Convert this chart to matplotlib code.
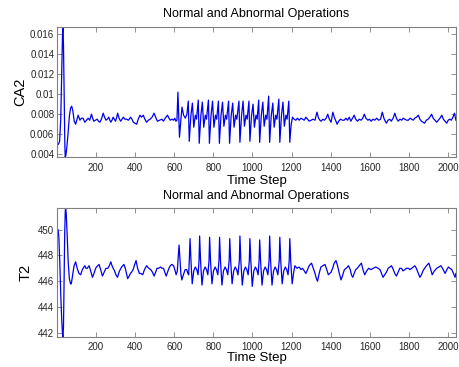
import matplotlib
matplotlib.use('Agg')
import matplotlib.pyplot as plt

plt.rcParams['font.family'] = ['Liberation Sans', 'DejaVu Sans']

# CA2 readings (time step, value)
ca2_steps = [
    1, 8, 14, 20, 25, 29, 31, 34, 38, 41, 43, 46, 51, 57, 64, 70, 76, 82, 89, 96,
    102, 109, 118, 126, 134, 143, 152, 160, 168, 177, 183, 189, 197, 206, 213, 220,
    228, 237, 244, 251, 258, 266, 271, 276, 282, 288, 294, 300, 305, 311, 318, 326,
    333, 340, 348, 357, 366, 377, 384, 391, 400, 408, 416, 425, 433, 442, 450, 459,
    468, 477, 487, 497, 505, 514, 525, 537, 545, 554, 566, 573, 580, 589, 597, 603,
    609, 614, 619, 623, 627, 633, 640, 648, 657, 665, 672, 677,
    685, 693, 700, 708, 714, 723, 728,
    736, 744, 751, 759, 765, 775, 780,
    788, 796, 803, 811, 817, 826, 831,
    839, 847, 854, 862, 868, 878, 883,
    891, 899, 906, 914, 920, 931, 936,
    944, 952, 959, 967, 973, 982, 987,
    995, 1003, 1010, 1018, 1024, 1032, 1037,
    1045, 1053, 1060, 1068, 1074, 1083, 1088,
    1096, 1104, 1111, 1119, 1125, 1135, 1140,
    1148, 1156, 1163, 1171, 1177, 1186, 1191,
    1198, 1205, 1213, 1222, 1230, 1239, 1248, 1256, 1265, 1273, 1282, 1290, 1300,
    1310, 1320, 1330, 1338, 1345, 1351, 1360, 1368, 1377, 1385, 1393, 1402, 1411,
    1420, 1427, 1433, 1441, 1450, 1460, 1469, 1478, 1486, 1495, 1503, 1512, 1520,
    1528, 1537, 1546, 1555, 1564, 1572, 1580, 1590, 1598, 1607, 1616, 1625, 1635,
    1645, 1655, 1664, 1672, 1679, 1685, 1693, 1702, 1710, 1719, 1728, 1736, 1745,
    1754, 1763, 1771, 1780, 1788, 1797, 1806, 1814, 1822, 1830, 1839, 1848, 1856,
    1864, 1872, 1880, 1889, 1898, 1907, 1916, 1924, 1933, 1942, 1950, 1959, 1968,
    1976, 1985, 1993, 2001, 2009, 2017, 2025, 2033, 2040,
]
ca2_values = [
    0.0050, 0.0050, 0.0053, 0.0075, 0.0120, 0.0160, 0.01666, 0.0148, 0.0090, 0.0048,
    0.00373, 0.0039, 0.0047, 0.0060, 0.0078, 0.0086, 0.0088, 0.0083, 0.0073, 0.0070,
    0.0074, 0.0079, 0.0074, 0.0076, 0.0076, 0.0072, 0.0074, 0.0076, 0.0074, 0.0080,
    0.0076, 0.0073, 0.0074, 0.0075, 0.0073, 0.0072, 0.0075, 0.0081, 0.0077, 0.0074,
    0.0075, 0.0077, 0.0074, 0.0072, 0.0074, 0.0077, 0.0075, 0.0073, 0.0076, 0.0081,
    0.0076, 0.0073, 0.0075, 0.0077, 0.0075, 0.0075, 0.0074, 0.0077, 0.0075, 0.0072,
    0.0071, 0.0070, 0.0075, 0.0079, 0.0077, 0.0079, 0.0075, 0.0072, 0.0074, 0.0075,
    0.0077, 0.0081, 0.0077, 0.0073, 0.0074, 0.0075, 0.0073, 0.0076, 0.0079, 0.0076,
    0.0074, 0.0075, 0.0074, 0.0076, 0.0073, 0.0074, 0.0102, 0.0078, 0.0057, 0.0072,
    0.0087, 0.0079, 0.0076, 0.0080, 0.0093, 0.0053,
    0.0078, 0.0091, 0.0067, 0.0079, 0.0075, 0.0094, 0.0051,
    0.0078, 0.0092, 0.0067, 0.0079, 0.0075, 0.0094, 0.0051,
    0.0078, 0.0093, 0.0067, 0.0079, 0.0075, 0.0093, 0.0051,
    0.0078, 0.0092, 0.0068, 0.0079, 0.0075, 0.0093, 0.0051,
    0.0078, 0.0091, 0.0067, 0.0079, 0.0075, 0.0093, 0.0052,
    0.0078, 0.0093, 0.0068, 0.0079, 0.0075, 0.0093, 0.0053,
    0.0078, 0.0090, 0.0067, 0.0079, 0.0075, 0.0094, 0.0052,
    0.0078, 0.0092, 0.0068, 0.0079, 0.0075, 0.0098, 0.0052,
    0.0078, 0.0091, 0.0067, 0.0079, 0.0075, 0.0095, 0.0052,
    0.0078, 0.0092, 0.0068, 0.0079, 0.0075, 0.0093, 0.0052,
    0.0070, 0.0077, 0.0075, 0.0074, 0.0076, 0.0074, 0.0076, 0.0075, 0.0074, 0.0077,
    0.0075, 0.0073, 0.0074, 0.0075, 0.0074, 0.0082, 0.0076, 0.0074, 0.0073, 0.0075,
    0.0074, 0.0076, 0.0080, 0.0075, 0.0072, 0.0082, 0.0076, 0.0073, 0.0070, 0.0073,
    0.0075, 0.0074, 0.0074, 0.0076, 0.0074, 0.0077, 0.0073, 0.0076, 0.0079, 0.0075,
    0.0073, 0.0075, 0.0074, 0.0076, 0.0080, 0.0076, 0.0074, 0.0075, 0.0073, 0.0075,
    0.0074, 0.0076, 0.0074, 0.0075, 0.0082, 0.0076, 0.0073, 0.0071, 0.0074, 0.0075,
    0.0073, 0.0076, 0.0081, 0.0076, 0.0073, 0.0075, 0.0074, 0.0076, 0.0075, 0.0074,
    0.0074, 0.0076, 0.0075, 0.0074, 0.0076, 0.0077, 0.0079, 0.0075, 0.0073, 0.0072,
    0.0071, 0.0074, 0.0075, 0.0077, 0.0080, 0.0076, 0.0074, 0.0072, 0.0074, 0.0076,
    0.0079, 0.0075, 0.0073, 0.0071, 0.0074, 0.0075, 0.0074, 0.0077, 0.0081, 0.0074,
]

# T2 readings (time step, value)
t2_steps = [
    1, 6, 10, 15, 20, 25, 29, 31, 34, 37, 40, 43, 45, 48, 53, 58, 64, 70, 74, 80,
    88, 96, 104, 113, 122, 128, 134, 143, 149, 155, 160, 165, 173, 182, 190, 196,
    202, 209, 216, 224, 233, 242, 251, 261, 268, 276, 282, 288, 295, 302, 310, 318,
    324, 331, 337, 343, 350, 356, 362, 370, 376, 382, 390, 398, 405, 413, 422, 430,
    439, 448, 459, 470, 480, 489, 497, 505, 512, 520, 530, 538, 545, 552, 559, 566,
    573, 580, 588, 597, 603, 610, 616, 621, 625, 629, 634, 639, 647, 656, 664, 670,
    674, 677, 681,
    686, 692, 700, 708, 715, 722, 727, 730,
    735, 742, 750, 758, 765, 772, 778, 781,
    786, 793, 801, 809, 816, 823, 829, 832,
    837, 844, 852, 860, 867, 874, 881, 884,
    889, 896, 904, 912, 919, 926, 933, 936,
    941, 948, 956, 964, 971, 978, 984, 987,
    992, 999, 1007, 1015, 1022, 1029, 1034, 1037,
    1042, 1049, 1057, 1065, 1072, 1079, 1085, 1088,
    1093, 1100, 1108, 1116, 1123, 1130, 1137, 1140,
    1145, 1152, 1160, 1168, 1175, 1182, 1188, 1191,
    1196, 1203, 1210, 1217, 1228, 1239, 1248, 1256, 1265, 1273, 1282, 1290, 1302,
    1311, 1320, 1327, 1333, 1341, 1350, 1360, 1371, 1380, 1388, 1395, 1402, 1410,
    1418, 1427, 1435, 1444, 1453, 1462, 1470, 1479, 1491, 1500, 1506, 1513, 1520,
    1528, 1536, 1546, 1557, 1565, 1574, 1584, 1594, 1605, 1617, 1630, 1643, 1652,
    1660, 1668, 1676, 1685, 1694, 1703, 1711, 1720, 1728, 1736, 1745, 1753, 1762,
    1770, 1779, 1788, 1797, 1805, 1814, 1822, 1830, 1838, 1848, 1856, 1864, 1872,
    1880, 1890, 1902, 1910, 1919, 1930, 1942, 1953, 1964, 1975, 1985, 1994, 2002,
    2010, 2019, 2028, 2036, 2040,
]
t2_values = [
    450.0, 450.0, 449.5, 447.5, 445.0, 443.0, 441.9, 441.69, 442.5, 446.0, 449.5,
    451.4, 451.69, 451.2, 449.5, 447.5, 446.2, 445.8, 445.8, 446.4, 447.2, 447.5,
    447.0, 446.6, 446.5, 446.8, 447.0, 447.2, 447.0, 447.0, 447.1, 447.2, 446.8,
    446.3, 446.6, 446.9, 447.1, 447.2, 447.3, 446.9, 446.4, 446.7, 447.0, 447.0,
    447.2, 447.5, 447.2, 447.0, 446.8, 446.5, 446.3, 446.7, 446.9, 447.1, 447.2,
    447.3, 447.0, 446.6, 446.2, 446.4, 446.6, 446.7, 446.9, 447.3, 447.6, 447.0,
    446.6, 446.6, 446.5, 446.9, 447.2, 447.0, 446.9, 446.7, 446.4, 446.7, 447.0,
    447.0, 447.1, 447.0, 447.0, 446.7, 446.4, 446.7, 447.0, 447.2, 447.3, 447.2,
    446.9, 446.5, 446.8, 448.0, 448.8, 447.8, 446.6, 446.1, 446.5, 446.9, 446.9,
    446.6, 446.5, 447.6, 449.3,
    447.5, 445.8, 446.8, 447.1, 446.9, 446.5, 447.6, 449.5,
    447.5, 445.7, 446.8, 447.1, 446.9, 446.5, 447.6, 449.4,
    447.5, 445.8, 446.8, 447.1, 446.9, 446.5, 447.6, 449.4,
    447.5, 445.7, 446.8, 447.1, 446.9, 446.5, 447.6, 449.3,
    447.5, 445.8, 446.8, 447.1, 446.9, 446.5, 447.6, 449.5,
    447.5, 445.7, 446.8, 447.1, 446.9, 446.5, 447.6, 449.3,
    447.5, 445.6, 446.8, 447.1, 446.9, 446.5, 447.6, 449.2,
    447.5, 445.7, 446.8, 447.1, 446.9, 446.5, 447.6, 449.5,
    447.5, 445.7, 446.8, 447.1, 446.9, 446.5, 447.6, 449.4,
    447.5, 445.8, 446.8, 447.1, 446.9, 446.5, 447.6, 449.3,
    447.5, 445.8, 446.6, 447.2, 447.0, 447.1, 446.9, 447.0, 446.8, 446.6, 446.9,
    447.2, 447.4, 447.0, 446.6, 446.2, 446.0, 446.6, 447.1, 447.2, 447.3, 446.9,
    446.5, 446.6, 446.7, 447.0, 447.4, 447.6, 447.2, 446.6, 446.1, 446.5, 446.9,
    447.0, 447.2, 446.9, 446.5, 446.3, 446.6, 446.9, 447.0, 447.2, 447.4, 446.9,
    446.5, 446.8, 447.0, 446.9, 447.0, 447.1, 447.0, 446.9, 446.6, 446.3, 446.5,
    446.7, 447.0, 447.1, 447.2, 446.9, 446.6, 446.4, 446.7, 447.0, 447.0, 446.8,
    446.9, 447.0, 447.0, 446.9, 447.0, 447.1, 447.2, 447.0, 446.6, 446.3, 446.5,
    446.8, 447.0, 447.2, 447.4, 447.0, 446.5, 446.8, 447.0, 447.1, 447.2, 446.9,
    446.6, 446.9, 447.1, 447.0, 446.9, 446.6, 446.3, 446.6,
]

x_ticks = [200, 400, 600, 800, 1000, 1200, 1400, 1600, 1800, 2000]
ca2_ticks = [0.004, 0.006, 0.008, 0.01, 0.012, 0.014, 0.016]
ca2_ticklabels = ['0.004', '0.006', '0.008', '0.01', '0.012', '0.014', '0.016']
t2_ticks = [442, 444, 446, 448, 450]
title = 'Normal and Abnormal Operations'


def style_axes(ax, xpad):
    for sp in ax.spines.values():
        sp.set_color('0.5')
        sp.set_linewidth(0.8)
    ax.tick_params(direction='in', length=3.5, width=0.6, colors='0.5',
                   labelcolor='0.15', labelsize=7, top=True, right=True)
    ax.tick_params(axis='x', pad=xpad)
    ax.tick_params(axis='y', pad=2)
    ax.set_xticks(x_ticks)
    ax.set_xlim(1, 2040)


fig = plt.figure(figsize=(4.6, 3.67), dpi=100)
ax1 = fig.add_axes([0.124, 0.572, 0.867, 0.354])
ax2 = fig.add_axes([0.124, 0.082, 0.867, 0.352])

ax1.plot(ca2_steps, ca2_values, color='#0000ee', linewidth=0.9)
style_axes(ax1, 4.5)
ax1.set_ylim(0.00373, 0.01666)
ax1.set_yticks(ca2_ticks)
ax1.set_yticklabels(ca2_ticklabels)
ax1.set_ylabel('CA2', fontsize=10.5, labelpad=2)
ax1.set_xlabel('Time Step', fontsize=9.5, labelpad=1.5)
ax1.set_title(title, fontsize=9, pad=7)

ax2.plot(t2_steps, t2_values, color='#0000ee', linewidth=0.9)
style_axes(ax2, 3.5)
ax2.set_ylim(441.69, 451.69)
ax2.set_yticks(t2_ticks)
ax2.set_ylabel('T2', fontsize=10.5, labelpad=4)
ax2.set_xlabel('Time Step', fontsize=9.5, labelpad=0)
ax2.set_title(title, fontsize=9, pad=6)

fig.savefig('out.png', dpi=100)
